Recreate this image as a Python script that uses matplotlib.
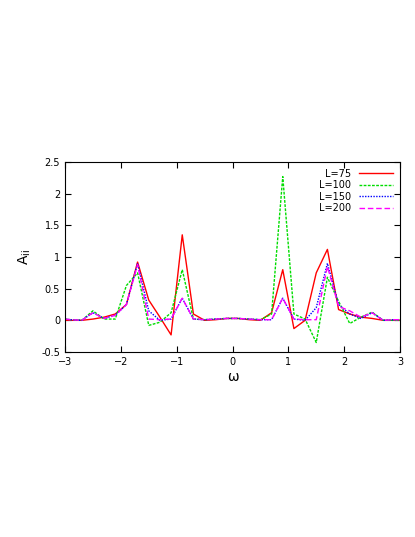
import numpy as np
import matplotlib.pyplot as plt

omega = [-3.0] + [round(-2.9 + 0.2 * i, 1) for i in range(30)] + [3.0]

a_l75 = [0, 0, 0, 0.02, 0.05, 0.1, 0.25, 0.92, 0.32, 0.05, -0.23, 1.35, 0.1, 0.0, 0.01, 0.03,
         0.03, 0.01, 0.0, 0.12, 0.8, -0.13, 0.0, 0.75, 1.12, 0.17, 0.1, 0.05, 0.03, 0.0, 0.0, 0.0]
a_l100 = [0.02, 0.01, 0.0, 0.15, 0.02, 0.02, 0.55, 0.75, -0.08, -0.03, 0.12, 0.8, 0.02, 0.01, 0.02, 0.03,
          0.03, 0.02, 0.01, 0.1, 2.27, 0.1, 0.02, -0.35, 0.68, 0.3, -0.05, 0.05, 0.13, 0.0, 0.0, 0.0]
a_l150 = [0.02, 0.01, 0.0, 0.12, 0.03, 0.08, 0.25, 0.9, 0.15, 0.0, 0.02, 0.35, 0.02, 0.01, 0.02, 0.03,
          0.03, 0.02, 0.01, 0.01, 0.35, 0.02, 0.0, 0.2, 0.9, 0.25, 0.1, 0.03, 0.12, 0.0, 0.01, 0.01]
a_l200 = [0.02, 0.01, 0.0, 0.12, 0.03, 0.08, 0.25, 0.88, 0.02, 0.01, 0.02, 0.35, 0.02, 0.01, 0.02, 0.03,
          0.03, 0.02, 0.01, 0.01, 0.35, 0.02, 0.01, 0.01, 0.85, 0.22, 0.15, 0.05, 0.12, 0.0, 0.01, 0.01]

fig = plt.figure(figsize=(4.15, 5.37), dpi=100)
ax = fig.add_axes([65 / 415, 185 / 537, 335 / 415, 190 / 537])

ax.plot(omega, a_l75, color="#ff0000", lw=1.0, label="L=75")
ax.plot(omega, a_l100, color="#00dd00", lw=1.0, ls=(0, (2, 1)), label="L=100")
ax.plot(omega, a_l150, color="#0000ff", lw=1.0, ls=(0, (1, 1)), label="L=150")
ax.plot(omega, a_l200, color="#ff00ff", lw=1.0, ls=(0, (4, 2)), label="L=200")

ax.set_xlim(-3, 3)
ax.set_ylim(-0.5, 2.5)
ax.set_xticks(np.arange(-3, 4, 1))
ax.set_yticks(np.arange(-0.5, 2.6, 0.5))
ax.set_yticklabels(["-0.5", "0", "0.5", "1", "1.5", "2", "2.5"])
ax.tick_params(direction="in", top=True, right=True, labelsize=7, length=4)
ax.set_xlabel("ω", fontsize=10, labelpad=2)
ax.set_ylabel("A$_{\\rm ii}$", fontsize=10, labelpad=6)

leg = ax.legend(loc="upper right", frameon=False, fontsize=7, handlelength=3.5,
                markerfirst=False, labelspacing=0.15, borderaxespad=0.3)

fig.savefig("out.png", dpi=100)
